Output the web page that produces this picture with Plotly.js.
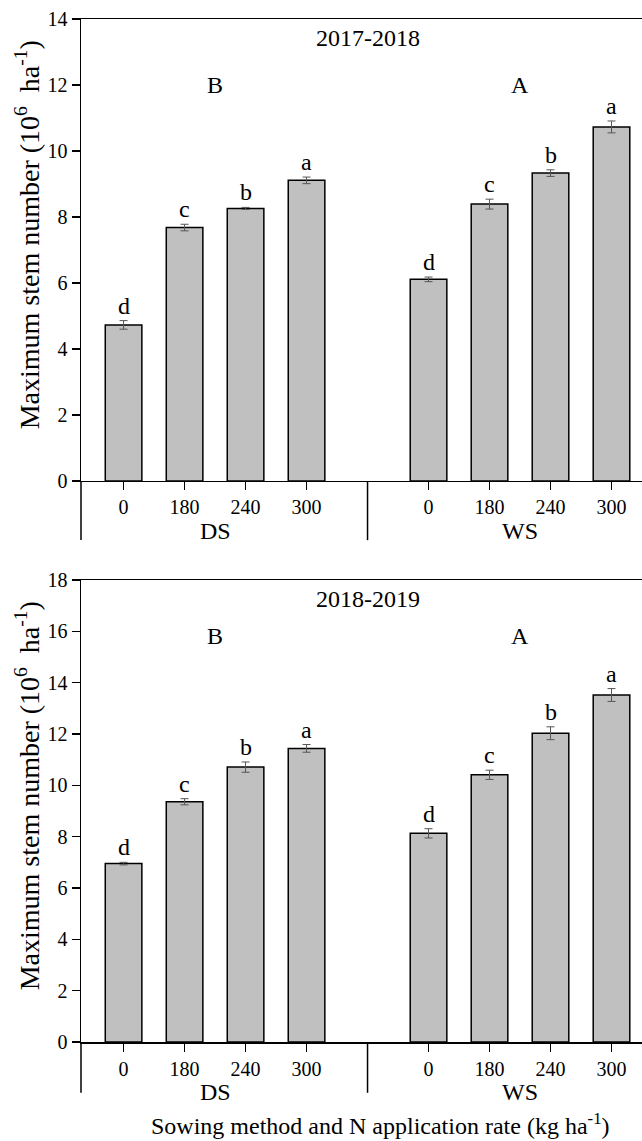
<!DOCTYPE html>
<html>
<head>
<meta charset="utf-8">
<script src="https://cdn.plot.ly/plotly-3.0.1.min.js"></script>
<style>
  html, body { margin: 0; padding: 0; background: #ffffff; }
  #chart { width: 642px; height: 1141px; }
</style>
</head>
<body>
<div id="chart"></div>
<script>
// ---- data ----
const sowingMethods = ['DS', 'WS'];
const nRates = ['0', '180', '240', '300'];
const seasons = ['2017-2018', '2018-2019'];

const stems2017 = [4.73, 7.68, 8.26, 9.11, 6.11, 8.39, 9.33, 10.73];
const err2017   = [0.13, 0.10, 0.03, 0.10, 0.07, 0.15, 0.10, 0.18];
const letters2017 = ['d', 'c', 'b', 'a', 'd', 'c', 'b', 'a'];
const groupLetters2017 = ['B', 'A'];

const stems2018 = [6.95, 9.36, 10.71, 11.44, 8.13, 10.41, 12.03, 13.52];
const err2018   = [0.05, 0.12, 0.20, 0.15, 0.18, 0.18, 0.25, 0.25];
const letters2018 = ['d', 'c', 'b', 'a', 'd', 'c', 'b', 'a'];
const groupLetters2018 = ['B', 'A'];

const yMax = [14, 18];

// ---- build ----
const FONT = 'Liberation Serif, Times New Roman, serif';
const nR = nRates.length;
const xPos = [];
const tickText = [];
sowingMethods.forEach((m, g) => nRates.forEach((r, i) => { xPos.push(g * (nR + 1) + i + 1); tickText.push(r); }));
const groupCenter = sowingMethods.map((m, g) => g * (nR + 1) + (nR + 1) / 2);
const sepPos = nR + 1;
const xRange = [0.302, 9.5];

const panels = [
  { vals: stems2017, errs: err2017, letters: letters2017, groups: groupLetters2017, season: seasons[0],
    xa: 'x', ya: 'y', titleY: 13.42, groupY: 12.0, lineEnd: -0.128 },
  { vals: stems2018, errs: err2018, letters: letters2018, groups: groupLetters2018, season: seasons[1],
    xa: 'x2', ya: 'y2', titleY: 17.26, groupY: 15.8, lineEnd: -0.110 }
];

const yTitle = 'Maximum stem number (10<sup>6</sup>&nbsp; ha<sup>-1</sup>)';

const traces = [];
const annotations = [];
const shapes = [];

panels.forEach((p, k) => {
  traces.push({
    type: 'bar',
    x: xPos,
    y: p.vals,
    width: 0.6,
    xaxis: p.xa, yaxis: p.ya,
    marker: { color: '#c0c0c0', line: { color: '#000000', width: 1.5 } },
    error_y: { type: 'data', array: p.errs, visible: true, color: '#555555', thickness: 1, width: 4 },
    showlegend: false,
    hoverinfo: 'x+y'
  });
  // significance letters above error bars
  p.vals.forEach((v, i) => {
    annotations.push({
      xref: p.xa, yref: p.ya, x: xPos[i], y: v + p.errs[i],
      text: p.letters[i], showarrow: false, yanchor: 'bottom', yshift: 0,
      font: { family: FONT, size: 24, color: '#000' }
    });
  });
  // group letters
  p.groups.forEach((gl, g) => {
    annotations.push({
      xref: p.xa, yref: p.ya, x: groupCenter[g], y: p.groupY,
      text: gl, showarrow: false, yanchor: 'middle',
      font: { family: FONT, size: 24, color: '#000' }
    });
  });
  // season title
  annotations.push({
    xref: p.xa, yref: p.ya, x: sepPos, y: p.titleY,
    text: p.season, showarrow: false, yanchor: 'middle',
    font: { family: FONT, size: 24, color: '#000' }
  });
  // sowing method labels
  sowingMethods.forEach((m, g) => {
    annotations.push({
      xref: p.xa, yref: p.ya + ' domain', x: groupCenter[g], y: -0.108,
      text: m, showarrow: false, yanchor: 'middle',
      font: { family: FONT, size: 24, color: '#000' }
    });
  });
  // y-axis title
  annotations.push({
    xref: p.xa + ' domain', yref: p.ya + ' domain', x: -0.096, y: 0.532,
    text: yTitle, textangle: -90, showarrow: false, xanchor: 'center', yanchor: 'middle',
    font: { family: FONT, size: 28, color: '#000' }
  });
  // extended left axis line and group separator
  shapes.push({
    type: 'line', xref: p.xa + ' domain', yref: p.ya + ' domain',
    x0: 0, x1: 0, y0: p.lineEnd, y1: 0, line: { color: '#000', width: 1.5 }
  });
  shapes.push({
    type: 'line', xref: p.xa, yref: p.ya + ' domain',
    x0: sepPos, x1: sepPos, y0: p.lineEnd, y1: 0, line: { color: '#000', width: 1.5 }
  });
});

annotations.push({
  xref: 'paper', yref: 'y2 domain', x: 0.533, y: -0.177,
  text: 'Sowing method and N application rate (kg ha<sup>-1</sup>)', showarrow: false, yanchor: 'middle',
  font: { family: FONT, size: 24, color: '#000' }
});

function xAxis(anchor) {
  return {
    anchor: anchor, range: xRange, tickmode: 'array', tickvals: xPos, ticktext: tickText,
    ticks: 'outside', ticklen: 8, tickwidth: 1.5, tickcolor: '#000',
    showline: true, linecolor: '#000', linewidth: 1.5, mirror: true,
    showgrid: false, zeroline: false, fixedrange: true,
    tickfont: { family: FONT, size: 20, color: '#000' }
  };
}
function yAxis(anchor, max, domain) {
  return {
    anchor: anchor, domain: domain, range: [0, max], dtick: 2, tick0: 0,
    ticks: 'outside', ticklen: 8, tickwidth: 1.5, tickcolor: '#000',
    showline: true, linecolor: '#000', linewidth: 1.5, mirror: false,
    showgrid: false, zeroline: false, fixedrange: true,
    tickfont: { family: FONT, size: 20, color: '#000' }
  };
}

const layout = {
  width: 642, height: 1141,
  margin: { l: 81, r: 0, t: 19, b: 99 },
  paper_bgcolor: '#ffffff', plot_bgcolor: '#ffffff',
  showlegend: false,
  font: { family: FONT, color: '#000' },
  xaxis: xAxis('y'),
  yaxis: yAxis('x', yMax[0], [0.5484, 1]),
  xaxis2: xAxis('y2'),
  yaxis2: yAxis('x2', yMax[1], [0, 0.4516]),
  annotations: annotations,
  shapes: shapes,
  bargap: 0.4
};

Plotly.newPlot('chart', traces, layout, { displayModeBar: false, staticPlot: true });
</script>
</body>
</html>
